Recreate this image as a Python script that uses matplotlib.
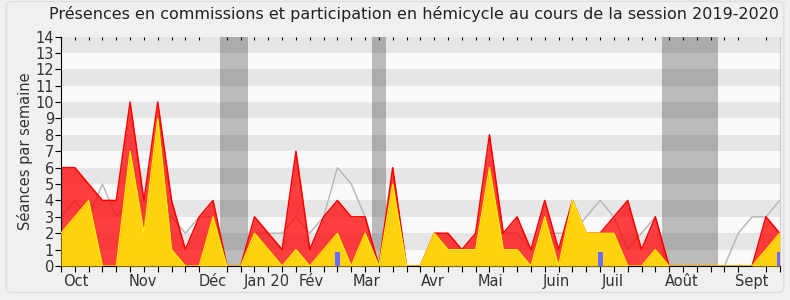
import matplotlib
matplotlib.use("Agg")
import matplotlib.pyplot as plt
from matplotlib.patches import FancyBboxPatch
import numpy as np

# weekly values, session 2019-2020 (53 weeks)
hemicycle = [6, 6, 5, 4, 4, 10, 4, 10, 4, 1, 3, 4, 0, 0, 3, 2, 1, 7, 1, 3,
             4, 3, 3, 0, 6, 0, 0, 2, 2, 1, 2, 8, 2, 3, 1, 4, 1, 4, 2, 2,
             3, 4, 1, 3, 0, 0, 0, 0, 0, 0, 0, 3, 2]
commissions = [2, 3, 4, 0, 0, 7, 2, 9, 1, 0, 0, 3, 0, 0, 2, 1, 0, 1, 0, 1,
               2, 0, 2, 0, 5, 0, 0, 2, 1, 1, 1, 6, 1, 1, 0, 3, 0, 4, 2, 2,
               2, 0, 0, 1, 0, 0, 0, 0, 0, 0, 0, 1, 2]
mediane = [3, 4, 3, 5, 3, 4, 2, 3, 3, 2, 3, 3, 0, 0, 2, 2, 2, 3, 2, 3,
           6, 5, 3, 0, 2, 0, 0, 1, 1, 1, 1, 2, 2, 2, 1, 2, 2, 2, 3, 4,
           3, 1, 2, 3, 0, 0, 0, 0, 0, 2, 3, 3, 4]
questions_weeks = [20, 39, 52]
questions_vals = [0.85, 0.85, 0.85]
vacances = [12, 13, 23, 44, 45, 46, 47]

mois = ["Oct", "Nov", "Déc", "Jan 20", "Fév", "Mar", "Avr", "Mai", "Juin",
        "Juil", "Août", "Sept"]
mois_pos = [1.1, 5.9, 11.0, 14.9, 18.1, 22.1, 26.9, 31.1, 35.8, 39.9, 44.9, 50.0]

weeks = np.arange(len(hemicycle))

fig = plt.figure(figsize=(7.9, 3.0), dpi=100, facecolor="#f0f0f0")
fig.patches.append(FancyBboxPatch((0.008, 0.025), 0.984, 0.97,
                                  boxstyle="round,pad=0,rounding_size=0.01",
                                  transform=fig.transFigure, facecolor="none",
                                  edgecolor="#e0e0e0", lw=1.2))
ax = fig.add_axes([0.0772, 0.1133, 0.9098, 0.765])
ax.set_facecolor("#fafafa")

# horizontal stripes
for y in range(1, 14, 2):
    ax.axhspan(y, y + 1, color="#e6e6e6", lw=0, zorder=0)
# holidays
for w in vacances:
    ax.axvspan(w - 0.5, w + 0.5, color="black", alpha=0.25, lw=0, zorder=0.5)

ax.plot(weeks, mediane, color="#b4b4b4", lw=1, zorder=1)
ax.fill_between(weeks, hemicycle, color="#ff0000", alpha=0.75, lw=0, zorder=2)
ax.plot(weeks, hemicycle, color="#ff0000", lw=1.1, zorder=2.1)
ax.fill_between(weeks, commissions, color="#ffd20f", lw=0, zorder=3)
ax.plot(weeks, commissions, color="#ffee00", lw=0.9, zorder=3.1)
ax.bar(questions_weeks, questions_vals, width=0.36, color="#6b6bff", zorder=4)

ax.set_xlim(0, 52)
ax.set_ylim(0, 14)
ax.set_yticks(range(0, 15))
ax.set_xticks(mois_pos)
ax.set_xticklabels(mois)
ax.set_xticks(weeks, minor=True)
ax.tick_params(axis="x", which="major", length=0, pad=6, labelsize=10.5)
ax.tick_params(axis="x", which="minor", length=4, width=0.8, top=True,
               direction="out")
ax.tick_params(axis="y", length=4, width=0.8, pad=1, labelsize=10.5)
ax.tick_params(axis="both", labelcolor="#333333", color="black")
for t in ax.xaxis.get_minor_ticks():
    t.tick2line.set_markersize(2)
    t.tick2line.set_marker(3)

ax.spines["top"].set_visible(False)
ax.spines["right"].set_color("#cccccc")

ax.set_ylabel("Séances par semaine", fontsize=10.5, color="#333333", labelpad=2)
fig.text(0.5245, 0.955, "Présences en commissions et participation en hémicycle au cours de la session 2019-2020",
         ha="center", va="center", fontsize=11.55, color="#222222")

fig.savefig("out.png", dpi=100, facecolor=fig.get_facecolor())
